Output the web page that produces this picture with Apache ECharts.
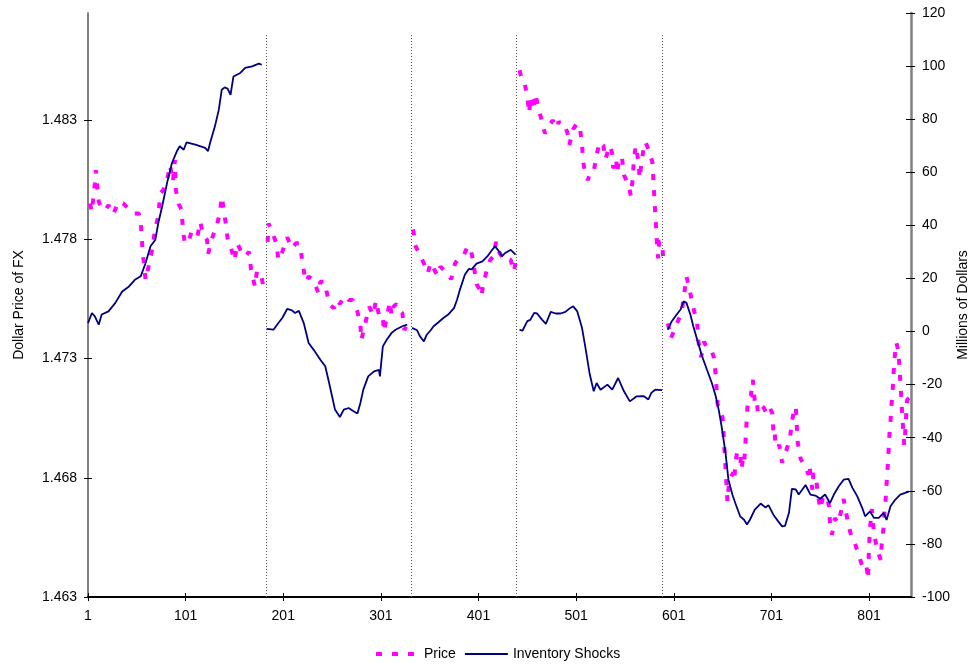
<!DOCTYPE html>
<html>
<head>
<meta charset="utf-8">
<script src="https://cdn.jsdelivr.net/npm/echarts@6.0.0/dist/echarts.min.js"></script>
<style>
  html, body { margin: 0; padding: 0; background: #fff; }
  #chart { width: 976px; height: 666px; }
</style>
</head>
<body>
<div id="chart"></div>
<script>
var FONT = '"Liberation Sans", Arial, sans-serif';

// tick labels
var xTicks = [1, 101, 201, 301, 401, 501, 601, 701, 801];
var priceTicks = [1.463, 1.468, 1.473, 1.478, 1.483];

// observation numbers where the trading sessions break
var breakObs = [184, 332, 439.5, 589.5];

// price of FX, [observation, dollars], one array per session
var priceS1 = [[3,1.47951],[5,1.47916],[8,1.48035],[9,1.48091],[12,1.47958],[15,1.4793],[19,1.47923],[22,1.47944],
  [27,1.47906],[32,1.47958],[37,1.47951],[43,1.47926],[48,1.47909],[53,1.47909],[55,1.47874],[56,1.47811],
  [57,1.47748],[60,1.4763],[63,1.47686],[67,1.47763],[70,1.47853],[73,1.47895],[75,1.47993],[78,1.48007],
  [82,1.48049],[85,1.48112],[88,1.48042],[90,1.48133],[91,1.48007],[94,1.47948],[97,1.47923],[98,1.47853],
  [100,1.47784],[104,1.4779],[107,1.47832],[113,1.47811],[116,1.47874],[119,1.47818],[123,1.47798],[124,1.47739],
  [128,1.47804],[133,1.4786],[136,1.47909],[138,1.47979],[140,1.47926],[142,1.4787],[144,1.47804],[148,1.47756],
  [151,1.47711],[154,1.47784],[158,1.47748],[162,1.47728],[166,1.47748],[168,1.47675],[172,1.47602],[174,1.47665],
  [177,1.47665],[179,1.47637],[182,1.47574]];
var priceS2 = [[185,1.4779],[186,1.47867],[188,1.4786],[190,1.47826],[194,1.47784],[196,1.47714],[200,1.47748],
  [205,1.47809],[210,1.47763],[214,1.47784],[217,1.47784],[219,1.47756],[221,1.47693],[224,1.47623],[227,1.47644],
  [232,1.4763],[237,1.47574],[239,1.47623],[243,1.47623],[245,1.47588],[247,1.47553],[249,1.47525],[253,1.47511],
  [255,1.47546],[259,1.4753],[264,1.47563],[268,1.47546],[272,1.47546],[277,1.47497],[280,1.47441],[281,1.47378],
  [285,1.47448],[289,1.47518],[293,1.47483],[296,1.47543],[299,1.47483],[303,1.47483],[304,1.47413],[308,1.4749],
  [310,1.47539],[312,1.4748],[314,1.47518],[317,1.4753],[319,1.47504],[323,1.4749],[325,1.4742],[328,1.47441]];
var priceS3 = [[334,1.47842],[335,1.47818],[336,1.47777],[340,1.47742],[345,1.477],[349,1.47658],[352,1.47702],
  [355,1.47679],[359,1.47648],[362,1.47686],[369,1.47658],[373,1.47633],[377,1.477],[381,1.47721],[386,1.47735],
  [390,1.47772],[393,1.47756],[395,1.47721],[399,1.47613],[402,1.47591],[404,1.47563],[406,1.47616],[410,1.47679],
  [413,1.47714],[416,1.47728],[419,1.4779],[422,1.47748],[424,1.47756],[427,1.47714],[430,1.47721],[434,1.47714],
  [437,1.47665],[439,1.477]];
var priceS4 = [[443,1.4851],[445,1.48478],[448,1.48464],[451,1.48394],[453,1.48329],[454,1.48397],[457,1.48342],
  [459,1.48412],[463,1.48342],[466,1.48296],[469,1.48245],[477,1.483],[482,1.48268],[483,1.48296],[486,1.4827],
  [490,1.4827],[492,1.48249],[494,1.48196],[498,1.48263],[502,1.48287],[505,1.48263],[507,1.48203],[508,1.48133],
  [510,1.48081],[513,1.48049],[515,1.48077],[517,1.4807],[519,1.48084],[522,1.48154],[525,1.48209],[529,1.48193],
  [531,1.48137],[534,1.48175],[536,1.48193],[538,1.48158],[539,1.48098],[542,1.48137],[543,1.48077],[545,1.48145],
  [548,1.48142],[550,1.4807],[555,1.48025],[557,1.47983],[559,1.48056],[560,1.48126],[562,1.48193],[565,1.48123],
  [566,1.48056],[568,1.48123],[570,1.48179],[572,1.48209],[575,1.48179],[579,1.48126],[580,1.48056],[581,1.47983],
  [582,1.47913],[583,1.47839],[584,1.47765],[585,1.47721],[586,1.4779],[589,1.4779],[590,1.4773]];
var priceS5 = [[595,1.47448],[598,1.47385],[600,1.47404],[606,1.47465],[609,1.47487],[611,1.47553],[612,1.47581],
  [614,1.47644],[617,1.47595],[620,1.47532],[622,1.47497],[625,1.47448],[626,1.47378],[629,1.47306],[632,1.47371],
  [636,1.47336],[640,1.4733],[642,1.47306],[644,1.47232],[645,1.47162],[646,1.47106],[649,1.47071],[651,1.47054],
  [652,1.46987],[653,1.46914],[654,1.46845],[655,1.46771],[656,1.46701],[657,1.4675],[658,1.46792],[662,1.46822],
  [663,1.46792],[664,1.46859],[666,1.4691],[669,1.4691],[670,1.46834],[672,1.46878],[673,1.4686],[674,1.46917],
  [675,1.46994],[676,1.47064],[677,1.4713],[680,1.47144],[681,1.47183],[682,1.47211],[684,1.4712],[686,1.4713],
  [687,1.47078],[690,1.47106],[693,1.47095],[696,1.47071],[699,1.47095],[702,1.47071],[703,1.46998],[704,1.4701],
  [705,1.46952],[707,1.46924],[709,1.46938],[712,1.46864],[714,1.46864],[717,1.46924],[720,1.46966],[722,1.47036],
  [724,1.47078],[726,1.47099],[727,1.47022],[728,1.46948],[731,1.46878],[736,1.46847],[739,1.46813],[740,1.4685],
  [742,1.4678],[743,1.4675],[744,1.4682],[747,1.46789],[749,1.46722],[751,1.46669],[754,1.46722],[758,1.4672],
  [760,1.4668],[761,1.46613],[763,1.46561],[766,1.46631],[769,1.4661],[772,1.46652],[775,1.46711],[777,1.46666],
  [780,1.46599],[783,1.46554],[786,1.46533],[788,1.4653],[790,1.46481],[794,1.46431],[798,1.46442],[800,1.46375],
  [801,1.46515],[802,1.46589],[804,1.46669],[806,1.46565],[810,1.46491],[813,1.46456],[814,1.46523],[816,1.46596],
  [817,1.46663],[818,1.46708],[819,1.46778],[820,1.46841],[821,1.46914],[822,1.46987],[823,1.47036],[824,1.47106],
  [825,1.47155],[826,1.47225],[827,1.47297],[829,1.47367],[831,1.47334],[832,1.47274],[833,1.47208],[834,1.47141],
  [835,1.47064],[836,1.47001],[837,1.46938],[838,1.46987],[839,1.47057],[840,1.47127],[843,1.47138]];

// inventory shocks, [observation, millions of dollars], one array per session
var invS1 = [[1,3.2],[5,7.0],[8,5.7],[12,2.6],[15,6.4],[22,7.6],[29,10.8],[36,15.1],[43,17.0],[49,19.5],[55,20.8],
  [60,25.8],[65,32.1],[70,34.6],[73,40.9],[77,47.2],[82,56.0],[87,63.5],[92,67.9],[95,69.8],[99,68.5],[102,71.3],
  [111,70.4],[121,69.2],[124,68.0],[126,71.0],[131,77.3],[135,83.6],[138,91.1],[141,92.0],[144,91.5],[147,89.2],
  [150,96.1],[157,97.4],[162,99.3],[169,99.9],[176,100.9],[179,100.5]];
var invS2 = [[184,1.0],[191,0.7],[196,3.2],[200,5.1],[205,8.5],[210,8.0],[213,7.0],[217,7.8],[222,3.2],[227,-4.3],
  [232,-6.8],[239,-10.6],[244,-13.1],[248,-19.4],[251,-24.4],[254,-29.4],[259,-32.2],[263,-29.4],[268,-28.8],
  [273,-30.0],[277,-30.9],[280,-26.9],[283,-21.9],[288,-16.9],[294,-15.0],[299,-14.4],[300,-16.9],[303,-5.6],
  [307,-3.1],[312,-0.5],[316,0.7],[323,2.0],[328,2.6]];
var invS3 = [[333,1.4],[338,0.5],[341,-1.8],[345,-3.7],[348,-1.2],[352,0.5],[355,2.0],[360,3.5],[365,5.1],[370,6.4],
  [376,8.9],[379,12.0],[382,15.8],[387,21.4],[391,23.6],[394,23.4],[399,25.6],[405,26.4],[410,28.3],[415,30.8],
  [418,32.1],[422,30.2],[425,28.3],[428,29.5],[434,30.8],[439,29.0]];
var invS4 = [[443,0.7],[446,0.3],[451,3.9],[454,4.4],[458,7.0],[461,6.8],[466,4.5],[470,2.9],[475,7.4],[480,6.8],
  [485,6.8],[490,7.4],[495,8.9],[498,9.5],[502,7.7],[507,1.4],[510,-4.9],[515,-16.2],[519,-22.5],[522,-19.4],
  [526,-21.9],[533,-20.0],[538,-21.9],[544,-17.5],[550,-22.5],[556,-26.3],[563,-24.4],[570,-24.3],[575,-25.6],
  [578,-23.1],[582,-21.9],[589,-22.1]];
var invS5 = [[595,0.7],[599,3.9],[604,6.4],[608,8.3],[611,11.4],[614,10.8],[618,6.4],[621,2.0],[625,-3.1],[630,-9.3],
  [635,-14.4],[640,-19.4],[644,-24.4],[647,-29.4],[650,-35.7],[654,-45.7],[657,-55.8],[661,-61.4],[664,-64.6],
  [669,-69.6],[673,-70.9],[676,-72.7],[679,-70.9],[684,-67.1],[690,-64.8],[695,-66.3],[698,-65.4],[703,-69.0],
  [708,-71.5],[712,-73.4],[715,-73.2],[719,-68.3],[722,-59.3],[726,-59.5],[729,-61.4],[736,-57.8],[741,-61.4],
  [746,-61.8],[751,-63.0],[756,-61.4],[761,-64.6],[765,-61.4],[770,-58.3],[775,-55.8],[780,-55.5],[784,-58.9],
  [789,-62.1],[794,-66.4],[797,-69.6],[802,-67.7],[806,-70.2],[811,-70.2],[816,-68.3],[819,-71.0],[823,-65.8],
  [828,-63.3],[833,-61.4],[838,-60.8],[842,-60.2]];

function joinSessions(sessions) {
  var out = [];
  sessions.forEach(function (s, k) {
    if (k > 0) out.push([breakObs[k - 1], null]);
    out = out.concat(s);
  });
  return out;
}

var labelStyle = { color: '#000', fontSize: 14, fontFamily: FONT };
var tickLine = { color: '#000', width: 1 };

var myChart = echarts.init(document.getElementById('chart'));

var option = {
  animation: false,
  backgroundColor: '#fff',
  grid: { left: 88, right: 65, top: 13, bottom: 69, outerBoundsMode: 'none' },
  legend: {
    data: [
      { name: 'Price', lineStyle: { width: 4 } },
      { name: 'Inventory Shocks', lineStyle: { width: 2 } }
    ],
    left: 369,
    top: 642,
    itemWidth: 43,
    itemHeight: 14,
    itemGap: 8,
    itemStyle: { opacity: 0 },
    textStyle: labelStyle
  },
  xAxis: [{
    type: 'value',
    min: 1,
    max: 844,
    position: 'bottom',
    axisLine: { onZero: false, lineStyle: { color: '#000', width: 2 } },
    axisTick: { customValues: xTicks, length: 4, lineStyle: tickLine },
    axisLabel: Object.assign({ customValues: xTicks, margin: 12 }, labelStyle),
    splitLine: { show: false }
  }, {
    type: 'value',
    min: 1,
    max: 844,
    position: 'bottom',
    axisLine: { show: false, onZero: false },
    axisTick: { customValues: xTicks, inside: true, length: 4, lineStyle: tickLine },
    axisLabel: { show: false },
    splitLine: { show: false }
  }],
  yAxis: [{
    type: 'value',
    min: 1.463,
    max: 1.4875,
    position: 'left',
    name: 'Dollar Price of FX',
    nameLocation: 'middle',
    nameRotate: 90,
    nameGap: 62,
    nameMoveOverlap: false,
    nameTextStyle: labelStyle,
    axisLine: { show: true, lineStyle: { color: '#808080', width: 2 } },
    axisTick: { customValues: priceTicks, length: 4, lineStyle: tickLine },
    axisLabel: Object.assign({
      customValues: priceTicks,
      margin: 11,
      formatter: function (v) { return v.toFixed(3); }
    }, labelStyle),
    splitLine: { show: false }
  }, {
    type: 'value',
    min: -100,
    max: 120,
    interval: 20,
    position: 'right',
    name: 'Millions of Dollars',
    nameLocation: 'middle',
    nameRotate: 90,
    nameGap: 45,
    nameMoveOverlap: false,
    nameTextStyle: labelStyle,
    axisLine: { show: true, lineStyle: { color: '#808080', width: 2.5 } },
    axisTick: { length: 4, lineStyle: tickLine },
    axisLabel: Object.assign({ margin: 11 }, labelStyle),
    splitLine: { show: false }
  }, {
    type: 'value',
    min: 1.463,
    max: 1.4875,
    position: 'left',
    axisLine: { show: false },
    axisTick: { customValues: priceTicks, inside: true, length: 4, lineStyle: tickLine },
    axisLabel: { show: false },
    splitLine: { show: false }
  }, {
    type: 'value',
    min: -100,
    max: 120,
    interval: 20,
    position: 'right',
    axisLine: { show: false },
    axisTick: { show: true, inside: true, length: 5, lineStyle: tickLine },
    axisLabel: { show: false },
    splitLine: { show: false }
  }],
  series: [{
    name: 'Price',
    type: 'line',
    xAxisIndex: 0,
    yAxisIndex: 0,
    symbol: 'none',
    connectNulls: false,
    color: '#FF00FF',
    lineStyle: { color: '#FF00FF', width: 4, type: [6, 10], cap: 'butt' },
    data: joinSessions([priceS1, priceS2, priceS3, priceS4, priceS5]),
    z: 3
  }, {
    name: 'Inventory Shocks',
    type: 'line',
    xAxisIndex: 0,
    yAxisIndex: 1,
    symbol: 'none',
    connectNulls: false,
    color: '#000080',
    lineStyle: { color: '#000080', width: 1.8 },
    data: joinSessions([invS1, invS2, invS3, invS4, invS5]),
    markLine: {
      silent: true,
      symbol: 'none',
      label: { show: false },
      lineStyle: { color: '#555', width: 1, type: [1, 2] },
      data: breakObs.map(function (b) {
        return [{ coord: [b, -100] }, { coord: [b, 112.5] }];
      })
    },
    z: 4
  }]
};

myChart.setOption(option);
</script>
</body>
</html>
